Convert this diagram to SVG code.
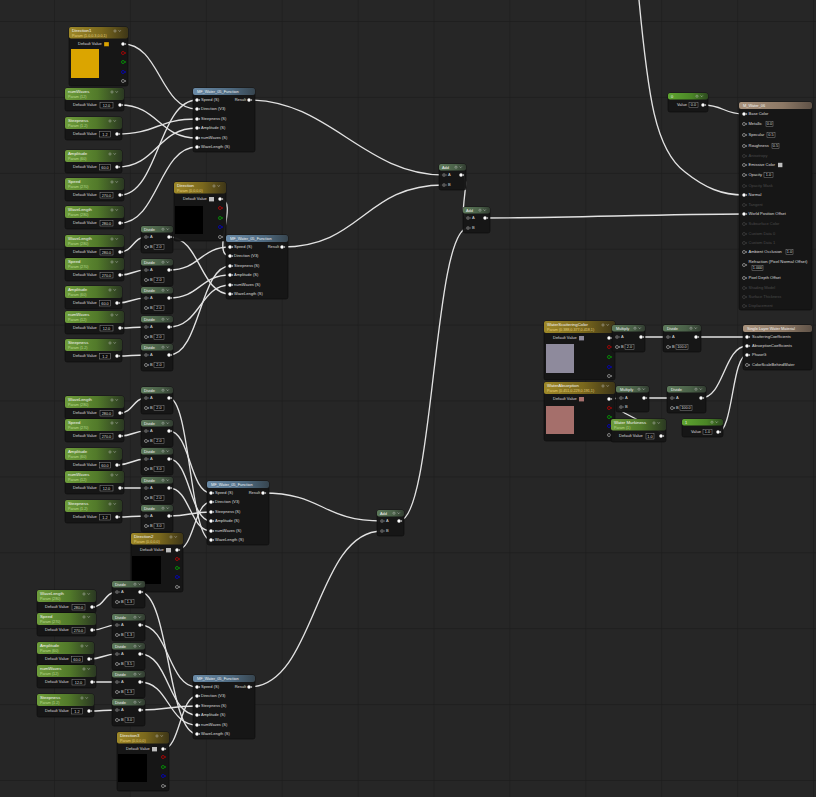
<svg xmlns="http://www.w3.org/2000/svg" width="816" height="797" viewBox="0 0 816 797">
<defs>
<pattern id="grid" x="-21.9" y="-54.9" width="75.9" height="75.9" patternUnits="userSpaceOnUse">
<rect width="75.9" height="75.9" fill="#262626"/>
<path d="M0,0 H75.9 M0,0 V75.9" stroke="#1c1c1c" stroke-width="1.3" fill="none"/>
</pattern>
<linearGradient id="gP" x1="0" y1="0" x2="1" y2="0"><stop offset="0" stop-color="#6e9d3b"/><stop offset="0.55" stop-color="#527a2a"/><stop offset="1" stop-color="#2b3922"/></linearGradient>
<linearGradient id="gY" x1="0" y1="0" x2="1" y2="0"><stop offset="0" stop-color="#9e8828"/><stop offset="0.55" stop-color="#7a681d"/><stop offset="1" stop-color="#3e3617"/></linearGradient>
<linearGradient id="gF" x1="0" y1="0" x2="1" y2="0"><stop offset="0" stop-color="#6a8aa6"/><stop offset="0.6" stop-color="#4f6b82"/><stop offset="1" stop-color="#37454f"/></linearGradient>
<linearGradient id="gM" x1="0" y1="0" x2="1" y2="0"><stop offset="0" stop-color="#5d795a"/><stop offset="0.6" stop-color="#4a6148"/><stop offset="1" stop-color="#323d31"/></linearGradient>
<linearGradient id="gW" x1="0" y1="0" x2="1" y2="0"><stop offset="0" stop-color="#a8927c"/><stop offset="0.6" stop-color="#8c7865"/><stop offset="1" stop-color="#5f5247"/></linearGradient>
<linearGradient id="gC" x1="0" y1="0" x2="1" y2="0"><stop offset="0" stop-color="#5fa631"/><stop offset="0.6" stop-color="#4a8526"/><stop offset="1" stop-color="#2d4a1f"/></linearGradient>
<g id="po"><circle r="1.7" fill="#fff"/><path d="M2.2,-1.1 L3.3,0 L2.2,1.1Z" fill="#fff"/></g>
<g id="pa"><circle r="1.6" fill="#555" stroke="#777" stroke-width="0.4"/><path d="M2.2,-1 L3.2,0 L2.2,1Z" fill="#666"/></g>
<g id="ph"><circle r="1.5" fill="none" stroke="#c4c4c4" stroke-width="0.6"/><path d="M2.2,-1 L3.2,0 L2.2,1Z" fill="#c4c4c4"/></g>
<g id="pd"><circle r="1.5" fill="none" stroke="#484848" stroke-width="0.6"/><path d="M2.2,-1 L3.2,0 L2.2,1Z" fill="#484848"/></g>
<g id="pr"><circle r="1.5" fill="none" stroke="#d00000" stroke-width="0.7"/><path d="M2.2,-1 L3.2,0 L2.2,1Z" fill="#d00000"/></g>
<g id="pg"><circle r="1.5" fill="none" stroke="#00b400" stroke-width="0.7"/><path d="M2.2,-1 L3.2,0 L2.2,1Z" fill="#00b400"/></g>
<g id="pb"><circle r="1.5" fill="none" stroke="#0000e0" stroke-width="0.7"/><path d="M2.2,-1 L3.2,0 L2.2,1Z" fill="#0000e0"/></g>
<g id="ico"><circle r="1.1" fill="none" stroke="#c8c8c8" stroke-width="0.45"/><path d="M3.6,-0.7 L4.7,0.5 L5.8,-0.7" fill="none" stroke="#c8c8c8" stroke-width="0.5"/></g>
</defs>
<style>
.bd{fill:#161616;fill-opacity:0.96;stroke:#0b0b0b;stroke-width:0.6}
text{font-family:"Liberation Sans",Arial,sans-serif}
.tt{font-size:4.3px;fill:#f2f2f2}
.th{font-size:3.9px;fill:#f0f0f0}
.sg{font-size:3.7px;fill:#b9d98c}
.sy{font-size:3.7px;fill:#e2cd78}
.tx{font-size:4px;fill:#dedede}
.td{font-size:4px;fill:#4a4a4a}
.tv{font-size:3.8px;fill:#dedede;text-anchor:middle}
.bx{fill:#0c0c0c;stroke:#9a9a9a;stroke-width:0.45}
.w{fill:none;stroke:#e2e2e2;stroke-width:1.35;stroke-linecap:round}
</style>
<rect width="816" height="797" fill="url(#grid)"/>

<g id="connectors" class="w">
<path d="M123,44 C160,44 160,109 197,109"/>
<path d="M120,105 C158,105 159,138 197,138"/>
<path d="M117,134 C157,134 157,119 197,119"/>
<path d="M117,167 C157,167 157,128 197,128"/>
<path d="M120,195 C158,195 159,100 197,100"/>
<path d="M120,223 C158,223 159,147 197,147"/>
<path d="M249,100 C329,100 364,175 444,175"/>
<path d="M120,252 C133,252 133,237 146,237"/>
<path d="M120,275 C133,275 133,270 146,270"/>
<path d="M117,303 C131,303 132,298 146,298"/>
<path d="M120,328 C133,328 133,327 146,327"/>
<path d="M117,356 C131,356 132,355 146,355"/>
<path d="M169,237 C200,237 200,294 230,294"/>
<path d="M169,270 C200,270 200,247 230,247"/>
<path d="M169,298 C200,298 200,275 230,275"/>
<path d="M169,327 C200,327 200,285 230,285"/>
<path d="M169,355 C200,355 200,266 230,266"/>
<path d="M220,199 C240,199 210,256 230,256"/>
<path d="M282,247 C362,247 364,185 444,185"/>
<path d="M120,413 C133,413 133,398 146,398"/>
<path d="M120,436 C133,436 133,431 146,431"/>
<path d="M117,465 C131,465 132,459 146,459"/>
<path d="M120,488 C133,488 133,488 146,488"/>
<path d="M117,517 C131,517 132,516 146,516"/>
<path d="M169,398 C190,398 190,540 211,540"/>
<path d="M169,431 C190,431 190,493 211,493"/>
<path d="M169,459 C190,459 190,521 211,521"/>
<path d="M169,488 C190,488 190,531 211,531"/>
<path d="M169,516 C190,516 190,512 211,512"/>
<path d="M177,550 C194,550 194,502 211,502"/>
<path d="M263,493 C323,493 322,521 382,521"/>
<path d="M249,687 C316,687 315,531 382,531"/>
<path d="M399,521 C434,521 433,228 468,228"/>
<path d="M461,175 C473,175 456,218 468,218"/>
<path d="M485,218 C565,218 664,214 744,214"/>
<path d="M92,607 C105,607 104,592 117,592"/>
<path d="M92,630 C105,630 104,625 117,625"/>
<path d="M89,659 C103,659 103,654 117,654"/>
<path d="M92,682 C105,682 104,682 117,682"/>
<path d="M89,711 C103,711 103,710 117,710"/>
<path d="M140,592 C169,592 168,734 197,734"/>
<path d="M140,625 C169,625 168,687 197,687"/>
<path d="M140,654 C169,654 168,715 197,715"/>
<path d="M140,682 C169,682 168,725 197,725"/>
<path d="M140,710 C169,710 168,706 197,706"/>
<path d="M163,749 C180,749 180,696 197,696"/>
<path d="M639,0 C648,95 655,150 685,172 C705,188 722,195 744,195"/>
<path d="M703,105 C723,105 724,114 744,114"/>
<path d="M609,338 C613,338 613,337 617,337"/>
<path d="M641,337 C654,337 655,337 668,337"/>
<path d="M696,337 C720,337 723,337 747,337"/>
<path d="M609,399 C615,399 615,398 621,398"/>
<path d="M661,436 C679,436 603,407 621,407"/>
<path d="M644,398 C658,398 658,398 672,398"/>
<path d="M701,398 C724,398 724,346 747,346"/>
<path d="M718,432 C733,432 732,355 747,355"/>
</g>

<!-- Block 1 -->
<g id="direction1" transform="translate(69,27)">
<rect class="bd" width="59" height="59" rx="2"/>
<rect fill="url(#gY)" width="59" height="11.5" rx="2"/>
<text class="tt" x="3" y="5">Direction1</text>
<text class="sy" x="3" y="10">Param (1.0,0.3,0.0,1)</text>
<use href="#ico" x="46" y="4"/>
<text class="tx" x="9" y="18.4">Default Value</text>
<rect x="35" y="15" width="5" height="4.4" fill="#dca400" stroke="#111" stroke-width="0.3"/>
<use href="#po" x="54" y="17"/>
<rect x="2" y="22" width="28" height="29" fill="#dba500"/>
<use href="#pr" x="54" y="26"/>
<use href="#pg" x="54" y="35"/>
<use href="#pb" x="54" y="45"/>
<use href="#ph" x="54" y="54"/>
</g>

<g id="b1-numWaves" transform="translate(65,88)">
<rect class="bd" width="59" height="23" rx="2"/>
<rect fill="url(#gP)" width="59" height="12" rx="2"/>
<text class="tt" x="3" y="5">numWaves</text>
<text class="sg" x="3" y="10">Param (12)</text>
<use href="#ico" x="47" y="4"/>
<text class="tx" x="8" y="18.4">Default Value</text>
<rect class="bx" x="35" y="14.5" width="13" height="5.5"/>
<text class="tv" x="41.5" y="18.5">12.0</text>
<use href="#po" x="55" y="17"/>
</g>
<g id="b1-steepness" transform="translate(65,117)">
<rect class="bd" width="57" height="23" rx="2"/>
<rect fill="url(#gP)" width="57" height="12" rx="2"/>
<text class="tt" x="3" y="5">Steepness</text>
<text class="sg" x="3" y="10">Param (1.2)</text>
<use href="#ico" x="45" y="4"/>
<text class="tx" x="8" y="18.4">Default Value</text>
<rect class="bx" x="34.5" y="14.5" width="11" height="5.5"/>
<text class="tv" x="40" y="18.5">1.2</text>
<use href="#po" x="52" y="17"/>
</g>
<g id="b1-amplitude" transform="translate(65,150)">
<rect class="bd" width="57" height="23" rx="2"/>
<rect fill="url(#gP)" width="57" height="12" rx="2"/>
<text class="tt" x="3" y="5">Amplitude</text>
<text class="sg" x="3" y="10">Param (60)</text>
<use href="#ico" x="45" y="4"/>
<text class="tx" x="8" y="18.4">Default Value</text>
<rect class="bx" x="34.5" y="14.5" width="11" height="5.5"/>
<text class="tv" x="40" y="18.5">60.0</text>
<use href="#po" x="52" y="17"/>
</g>
<g id="b1-speed" transform="translate(65,178)">
<rect class="bd" width="59" height="23" rx="2"/>
<rect fill="url(#gP)" width="59" height="12" rx="2"/>
<text class="tt" x="3" y="5">Speed</text>
<text class="sg" x="3" y="10">Param (270)</text>
<use href="#ico" x="47" y="4"/>
<text class="tx" x="8" y="18.4">Default Value</text>
<rect class="bx" x="35" y="14.5" width="13" height="5.5"/>
<text class="tv" x="41.5" y="18.5">270.0</text>
<use href="#po" x="55" y="17"/>
</g>
<g id="b1-wavelength" transform="translate(65,206)">
<rect class="bd" width="59" height="23" rx="2"/>
<rect fill="url(#gP)" width="59" height="12" rx="2"/>
<text class="tt" x="3" y="5">WaveLength</text>
<text class="sg" x="3" y="10">Param (280)</text>
<use href="#ico" x="47" y="4"/>
<text class="tx" x="8" y="18.4">Default Value</text>
<rect class="bx" x="35" y="14.5" width="13" height="5.5"/>
<text class="tv" x="41.5" y="18.5">280.0</text>
<use href="#po" x="55" y="17"/>
</g>

<g id="b1-function" transform="translate(193,88)">
<rect class="bd" width="62" height="64" rx="2"/>
<rect fill="url(#gF)" width="62" height="7" rx="2"/>
<text class="th" x="4" y="5">MF_Water_05_Function</text>
<use href="#po" x="4" y="12"/><text class="tx" x="8" y="13.4">Speed (S)</text>
<use href="#po" x="4" y="21"/><text class="tx" x="8" y="22.4">Direction (V3)</text>
<use href="#po" x="4" y="31"/><text class="tx" x="8" y="32.4">Steepness (S)</text>
<use href="#po" x="4" y="40"/><text class="tx" x="8" y="41.4">Amplitude (S)</text>
<use href="#po" x="4" y="50"/><text class="tx" x="8" y="51.4">numWaves (S)</text>
<use href="#po" x="4" y="59"/><text class="tx" x="8" y="60.4">WaveLength (S)</text>
<text class="tx" x="53" y="13.4" text-anchor="end">Result</text><use href="#po" x="56" y="12"/>
</g>

<!-- Block 2 -->
<g id="b2-wavelength" transform="translate(65,235)">
<rect class="bd" width="59" height="23" rx="2"/>
<rect fill="url(#gP)" width="59" height="12" rx="2"/>
<text class="tt" x="3" y="5">WaveLength</text>
<text class="sg" x="3" y="10">Param (280)</text>
<use href="#ico" x="47" y="4"/>
<text class="tx" x="8" y="18.4">Default Value</text>
<rect class="bx" x="35" y="14.5" width="13" height="5.5"/>
<text class="tv" x="41.5" y="18.5">280.0</text>
<use href="#po" x="55" y="17"/>
</g>
<g id="b2-speed" transform="translate(65,258)">
<rect class="bd" width="59" height="23" rx="2"/>
<rect fill="url(#gP)" width="59" height="12" rx="2"/>
<text class="tt" x="3" y="5">Speed</text>
<text class="sg" x="3" y="10">Param (270)</text>
<use href="#ico" x="47" y="4"/>
<text class="tx" x="8" y="18.4">Default Value</text>
<rect class="bx" x="35" y="14.5" width="13" height="5.5"/>
<text class="tv" x="41.5" y="18.5">270.0</text>
<use href="#po" x="55" y="17"/>
</g>
<g id="b2-amplitude" transform="translate(65,286)">
<rect class="bd" width="57" height="23" rx="2"/>
<rect fill="url(#gP)" width="57" height="12" rx="2"/>
<text class="tt" x="3" y="5">Amplitude</text>
<text class="sg" x="3" y="10">Param (60)</text>
<use href="#ico" x="45" y="4"/>
<text class="tx" x="8" y="18.4">Default Value</text>
<rect class="bx" x="34.5" y="14.5" width="11" height="5.5"/>
<text class="tv" x="40" y="18.5">60.0</text>
<use href="#po" x="52" y="17"/>
</g>
<g id="b2-numWaves" transform="translate(65,311)">
<rect class="bd" width="59" height="23" rx="2"/>
<rect fill="url(#gP)" width="59" height="12" rx="2"/>
<text class="tt" x="3" y="5">numWaves</text>
<text class="sg" x="3" y="10">Param (12)</text>
<use href="#ico" x="47" y="4"/>
<text class="tx" x="8" y="18.4">Default Value</text>
<rect class="bx" x="35" y="14.5" width="13" height="5.5"/>
<text class="tv" x="41.5" y="18.5">12.0</text>
<use href="#po" x="55" y="17"/>
</g>
<g id="b2-steepness" transform="translate(65,339)">
<rect class="bd" width="57" height="23" rx="2"/>
<rect fill="url(#gP)" width="57" height="12" rx="2"/>
<text class="tt" x="3" y="5">Steepness</text>
<text class="sg" x="3" y="10">Param (1.2)</text>
<use href="#ico" x="45" y="4"/>
<text class="tx" x="8" y="18.4">Default Value</text>
<rect class="bx" x="34.5" y="14.5" width="11" height="5.5"/>
<text class="tv" x="40" y="18.5">1.2</text>
<use href="#po" x="52" y="17"/>
</g>

<g id="b2-divide1" transform="translate(141,226)">
<rect class="bd" width="32" height="27" rx="2"/><rect fill="url(#gM)" width="32" height="6.5" rx="2"/>
<text class="th" x="3" y="4.8">Divide</text><use href="#ico" x="22" y="3.2"/>
<use href="#pa" x="5" y="11"/><text class="tx" x="9" y="12.4">A</text><use href="#po" x="28" y="11"/>
<use href="#ph" x="5" y="21"/><text class="tx" x="9" y="22.4">B</text>
<rect class="bx" x="13" y="18.3" width="10" height="5.4"/><text class="tv" x="18" y="22.3">2.0</text>
</g>
<g id="b2-divide2" transform="translate(141,259)">
<rect class="bd" width="32" height="27" rx="2"/><rect fill="url(#gM)" width="32" height="6.5" rx="2"/>
<text class="th" x="3" y="4.8">Divide</text><use href="#ico" x="22" y="3.2"/>
<use href="#pa" x="5" y="11"/><text class="tx" x="9" y="12.4">A</text><use href="#po" x="28" y="11"/>
<use href="#ph" x="5" y="21"/><text class="tx" x="9" y="22.4">B</text>
<rect class="bx" x="13" y="18.3" width="10" height="5.4"/><text class="tv" x="18" y="22.3">2.0</text>
</g>
<g id="b2-divide3" transform="translate(141,287)">
<rect class="bd" width="32" height="27" rx="2"/><rect fill="url(#gM)" width="32" height="6.5" rx="2"/>
<text class="th" x="3" y="4.8">Divide</text><use href="#ico" x="22" y="3.2"/>
<use href="#pa" x="5" y="11"/><text class="tx" x="9" y="12.4">A</text><use href="#po" x="28" y="11"/>
<use href="#ph" x="5" y="21"/><text class="tx" x="9" y="22.4">B</text>
<rect class="bx" x="13" y="18.3" width="10" height="5.4"/><text class="tv" x="18" y="22.3">2.0</text>
</g>
<g id="b2-divide4" transform="translate(141,316)">
<rect class="bd" width="32" height="27" rx="2"/><rect fill="url(#gM)" width="32" height="6.5" rx="2"/>
<text class="th" x="3" y="4.8">Divide</text><use href="#ico" x="22" y="3.2"/>
<use href="#pa" x="5" y="11"/><text class="tx" x="9" y="12.4">A</text><use href="#po" x="28" y="11"/>
<use href="#ph" x="5" y="21"/><text class="tx" x="9" y="22.4">B</text>
<rect class="bx" x="13" y="18.3" width="10" height="5.4"/><text class="tv" x="18" y="22.3">2.0</text>
</g>
<g id="b2-divide5" transform="translate(141,344)">
<rect class="bd" width="32" height="27" rx="2"/><rect fill="url(#gM)" width="32" height="6.5" rx="2"/>
<text class="th" x="3" y="4.8">Divide</text><use href="#ico" x="22" y="3.2"/>
<use href="#pa" x="5" y="11"/><text class="tx" x="9" y="12.4">A</text><use href="#po" x="28" y="11"/>
<use href="#ph" x="5" y="21"/><text class="tx" x="9" y="22.4">B</text>
<rect class="bx" x="13" y="18.3" width="10" height="5.4"/><text class="tv" x="18" y="22.3">2.0</text>
</g>

<g id="direction" transform="translate(174,182)">
<rect class="bd" width="52" height="59" rx="2"/>
<rect fill="url(#gY)" width="52" height="11.5" rx="2"/>
<text class="tt" x="3" y="5">Direction</text>
<text class="sy" x="3" y="10">Param (0,0,0,0)</text>
<use href="#ico" x="40" y="4"/>
<text class="tx" x="9" y="18.4">Default Value</text>
<rect x="35" y="15" width="5" height="4.4" fill="#bdbdbd"/>
<use href="#po" x="46" y="17"/>
<rect x="1" y="24" width="28" height="28" fill="#000"/>
<use href="#pr" x="46" y="26"/>
<use href="#pg" x="46" y="36"/>
<use href="#pb" x="46" y="45"/>
<use href="#ph" x="46" y="55"/>
</g>

<g id="b2-function" transform="translate(226,235)">
<rect class="bd" width="62" height="64" rx="2"/>
<rect fill="url(#gF)" width="62" height="7" rx="2"/>
<text class="th" x="4" y="5">MF_Water_05_Function</text>
<use href="#po" x="4" y="12"/><text class="tx" x="8" y="13.4">Speed (S)</text>
<use href="#po" x="4" y="21"/><text class="tx" x="8" y="22.4">Direction (V3)</text>
<use href="#po" x="4" y="31"/><text class="tx" x="8" y="32.4">Steepness (S)</text>
<use href="#po" x="4" y="40"/><text class="tx" x="8" y="41.4">Amplitude (S)</text>
<use href="#po" x="4" y="50"/><text class="tx" x="8" y="51.4">numWaves (S)</text>
<use href="#po" x="4" y="59"/><text class="tx" x="8" y="60.4">WaveLength (S)</text>
<text class="tx" x="53" y="13.4" text-anchor="end">Result</text><use href="#po" x="56" y="12"/>
</g>

<!-- Adds -->
<g id="add1" transform="translate(439,164)">
<rect class="bd" width="27" height="26" rx="2"/><rect fill="url(#gM)" width="27" height="6.5" rx="2"/>
<text class="th" x="3" y="4.8">Add</text><use href="#ico" x="17" y="3.2"/>
<use href="#pa" x="5" y="11"/><text class="tx" x="9" y="12.4">A</text><use href="#po" x="22" y="11"/>
<use href="#pa" x="5" y="21"/><text class="tx" x="9" y="22.4">B</text>
</g>
<g id="add2" transform="translate(463,207)">
<rect class="bd" width="27" height="26" rx="2"/><rect fill="url(#gM)" width="27" height="6.5" rx="2"/>
<text class="th" x="3" y="4.8">Add</text><use href="#ico" x="17" y="3.2"/>
<use href="#pa" x="5" y="11"/><text class="tx" x="9" y="12.4">A</text><use href="#po" x="22" y="11"/>
<use href="#pa" x="5" y="21"/><text class="tx" x="9" y="22.4">B</text>
</g>
<g id="add3" transform="translate(377,510)">
<rect class="bd" width="27" height="26" rx="2"/><rect fill="url(#gM)" width="27" height="6.5" rx="2"/>
<text class="th" x="3" y="4.8">Add</text><use href="#ico" x="17" y="3.2"/>
<use href="#pa" x="5" y="11"/><text class="tx" x="9" y="12.4">A</text><use href="#po" x="22" y="11"/>
<use href="#pa" x="5" y="21"/><text class="tx" x="9" y="22.4">B</text>
</g>

<!-- Block 3 -->
<g id="b3-wavelength" transform="translate(65,396)">
<rect class="bd" width="59" height="23" rx="2"/>
<rect fill="url(#gP)" width="59" height="12" rx="2"/>
<text class="tt" x="3" y="5">WaveLength</text>
<text class="sg" x="3" y="10">Param (280)</text>
<use href="#ico" x="47" y="4"/>
<text class="tx" x="8" y="18.4">Default Value</text>
<rect class="bx" x="35" y="14.5" width="13" height="5.5"/>
<text class="tv" x="41.5" y="18.5">280.0</text>
<use href="#po" x="55" y="17"/>
</g>
<g id="b3-speed" transform="translate(65,419)">
<rect class="bd" width="59" height="23" rx="2"/>
<rect fill="url(#gP)" width="59" height="12" rx="2"/>
<text class="tt" x="3" y="5">Speed</text>
<text class="sg" x="3" y="10">Param (270)</text>
<use href="#ico" x="47" y="4"/>
<text class="tx" x="8" y="18.4">Default Value</text>
<rect class="bx" x="35" y="14.5" width="13" height="5.5"/>
<text class="tv" x="41.5" y="18.5">270.0</text>
<use href="#po" x="55" y="17"/>
</g>
<g id="b3-amplitude" transform="translate(65,448)">
<rect class="bd" width="57" height="23" rx="2"/>
<rect fill="url(#gP)" width="57" height="12" rx="2"/>
<text class="tt" x="3" y="5">Amplitude</text>
<text class="sg" x="3" y="10">Param (60)</text>
<use href="#ico" x="45" y="4"/>
<text class="tx" x="8" y="18.4">Default Value</text>
<rect class="bx" x="34.5" y="14.5" width="11" height="5.5"/>
<text class="tv" x="40" y="18.5">60.0</text>
<use href="#po" x="52" y="17"/>
</g>
<g id="b3-numWaves" transform="translate(65,471)">
<rect class="bd" width="59" height="23" rx="2"/>
<rect fill="url(#gP)" width="59" height="12" rx="2"/>
<text class="tt" x="3" y="5">numWaves</text>
<text class="sg" x="3" y="10">Param (12)</text>
<use href="#ico" x="47" y="4"/>
<text class="tx" x="8" y="18.4">Default Value</text>
<rect class="bx" x="35" y="14.5" width="13" height="5.5"/>
<text class="tv" x="41.5" y="18.5">12.0</text>
<use href="#po" x="55" y="17"/>
</g>
<g id="b3-steepness" transform="translate(65,500)">
<rect class="bd" width="57" height="23" rx="2"/>
<rect fill="url(#gP)" width="57" height="12" rx="2"/>
<text class="tt" x="3" y="5">Steepness</text>
<text class="sg" x="3" y="10">Param (1.2)</text>
<use href="#ico" x="45" y="4"/>
<text class="tx" x="8" y="18.4">Default Value</text>
<rect class="bx" x="34.5" y="14.5" width="11" height="5.5"/>
<text class="tv" x="40" y="18.5">1.2</text>
<use href="#po" x="52" y="17"/>
</g>

<g id="b3-divide1" transform="translate(141,387)">
<rect class="bd" width="32" height="27" rx="2"/><rect fill="url(#gM)" width="32" height="6.5" rx="2"/>
<text class="th" x="3" y="4.8">Divide</text><use href="#ico" x="22" y="3.2"/>
<use href="#pa" x="5" y="11"/><text class="tx" x="9" y="12.4">A</text><use href="#po" x="28" y="11"/>
<use href="#ph" x="5" y="21"/><text class="tx" x="9" y="22.4">B</text>
<rect class="bx" x="13" y="18.3" width="10" height="5.4"/><text class="tv" x="18" y="22.3">2.0</text>
</g>
<g id="b3-divide2" transform="translate(141,420)">
<rect class="bd" width="32" height="27" rx="2"/><rect fill="url(#gM)" width="32" height="6.5" rx="2"/>
<text class="th" x="3" y="4.8">Divide</text><use href="#ico" x="22" y="3.2"/>
<use href="#pa" x="5" y="11"/><text class="tx" x="9" y="12.4">A</text><use href="#po" x="28" y="11"/>
<use href="#ph" x="5" y="21"/><text class="tx" x="9" y="22.4">B</text>
<rect class="bx" x="13" y="18.3" width="10" height="5.4"/><text class="tv" x="18" y="22.3">2.0</text>
</g>
<g id="b3-divide3" transform="translate(141,448)">
<rect class="bd" width="32" height="27" rx="2"/><rect fill="url(#gM)" width="32" height="6.5" rx="2"/>
<text class="th" x="3" y="4.8">Divide</text><use href="#ico" x="22" y="3.2"/>
<use href="#pa" x="5" y="11"/><text class="tx" x="9" y="12.4">A</text><use href="#po" x="28" y="11"/>
<use href="#ph" x="5" y="21"/><text class="tx" x="9" y="22.4">B</text>
<rect class="bx" x="13" y="18.3" width="10" height="5.4"/><text class="tv" x="18" y="22.3">3.0</text>
</g>
<g id="b3-divide4" transform="translate(141,477)">
<rect class="bd" width="32" height="27" rx="2"/><rect fill="url(#gM)" width="32" height="6.5" rx="2"/>
<text class="th" x="3" y="4.8">Divide</text><use href="#ico" x="22" y="3.2"/>
<use href="#pa" x="5" y="11"/><text class="tx" x="9" y="12.4">A</text><use href="#po" x="28" y="11"/>
<use href="#ph" x="5" y="21"/><text class="tx" x="9" y="22.4">B</text>
<rect class="bx" x="13" y="18.3" width="10" height="5.4"/><text class="tv" x="18" y="22.3">2.0</text>
</g>
<g id="b3-divide5" transform="translate(141,505)">
<rect class="bd" width="32" height="27" rx="2"/><rect fill="url(#gM)" width="32" height="6.5" rx="2"/>
<text class="th" x="3" y="4.8">Divide</text><use href="#ico" x="22" y="3.2"/>
<use href="#pa" x="5" y="11"/><text class="tx" x="9" y="12.4">A</text><use href="#po" x="28" y="11"/>
<use href="#ph" x="5" y="21"/><text class="tx" x="9" y="22.4">B</text>
<rect class="bx" x="13" y="18.3" width="10" height="5.4"/><text class="tv" x="18" y="22.3">3.0</text>
</g>

<g id="b3-function" transform="translate(207,481)">
<rect class="bd" width="62" height="64" rx="2"/>
<rect fill="url(#gF)" width="62" height="7" rx="2"/>
<text class="th" x="4" y="5">MF_Water_05_Function</text>
<use href="#po" x="4" y="12"/><text class="tx" x="8" y="13.4">Speed (S)</text>
<use href="#po" x="4" y="21"/><text class="tx" x="8" y="22.4">Direction (V3)</text>
<use href="#po" x="4" y="31"/><text class="tx" x="8" y="32.4">Steepness (S)</text>
<use href="#po" x="4" y="40"/><text class="tx" x="8" y="41.4">Amplitude (S)</text>
<use href="#po" x="4" y="50"/><text class="tx" x="8" y="51.4">numWaves (S)</text>
<use href="#po" x="4" y="59"/><text class="tx" x="8" y="60.4">WaveLength (S)</text>
<text class="tx" x="53" y="13.4" text-anchor="end">Result</text><use href="#po" x="56" y="12"/>
</g>

<g id="direction2" transform="translate(131,533)">
<rect class="bd" width="52" height="59" rx="2"/>
<rect fill="url(#gY)" width="52" height="11.5" rx="2"/>
<text class="tt" x="3" y="5">Direction2</text>
<text class="sy" x="3" y="10">Param (0,0,0,0)</text>
<use href="#ico" x="40" y="4"/>
<text class="tx" x="9" y="18.4">Default Value</text>
<rect x="35" y="15" width="5" height="4.4" fill="#bdbdbd"/>
<use href="#po" x="46" y="17"/>
<rect x="1" y="23" width="29" height="28" fill="#000"/>
<use href="#pr" x="46" y="26"/>
<use href="#pg" x="46" y="35"/>
<use href="#pb" x="46" y="44"/>
<use href="#ph" x="46" y="54"/>
</g>

<!-- Block 4 -->
<g id="b4-wavelength" transform="translate(37,590)">
<rect class="bd" width="59" height="23" rx="2"/>
<rect fill="url(#gP)" width="59" height="12" rx="2"/>
<text class="tt" x="3" y="5">WaveLength</text>
<text class="sg" x="3" y="10">Param (280)</text>
<use href="#ico" x="47" y="4"/>
<text class="tx" x="8" y="18.4">Default Value</text>
<rect class="bx" x="35" y="14.5" width="13" height="5.5"/>
<text class="tv" x="41.5" y="18.5">280.0</text>
<use href="#po" x="55" y="17"/>
</g>
<g id="b4-speed" transform="translate(37,613)">
<rect class="bd" width="59" height="23" rx="2"/>
<rect fill="url(#gP)" width="59" height="12" rx="2"/>
<text class="tt" x="3" y="5">Speed</text>
<text class="sg" x="3" y="10">Param (270)</text>
<use href="#ico" x="47" y="4"/>
<text class="tx" x="8" y="18.4">Default Value</text>
<rect class="bx" x="35" y="14.5" width="13" height="5.5"/>
<text class="tv" x="41.5" y="18.5">270.0</text>
<use href="#po" x="55" y="17"/>
</g>
<g id="b4-amplitude" transform="translate(37,642)">
<rect class="bd" width="57" height="23" rx="2"/>
<rect fill="url(#gP)" width="57" height="12" rx="2"/>
<text class="tt" x="3" y="5">Amplitude</text>
<text class="sg" x="3" y="10">Param (60)</text>
<use href="#ico" x="45" y="4"/>
<text class="tx" x="8" y="18.4">Default Value</text>
<rect class="bx" x="34.5" y="14.5" width="11" height="5.5"/>
<text class="tv" x="40" y="18.5">60.0</text>
<use href="#po" x="52" y="17"/>
</g>
<g id="b4-numWaves" transform="translate(37,665)">
<rect class="bd" width="59" height="23" rx="2"/>
<rect fill="url(#gP)" width="59" height="12" rx="2"/>
<text class="tt" x="3" y="5">numWaves</text>
<text class="sg" x="3" y="10">Param (12)</text>
<use href="#ico" x="47" y="4"/>
<text class="tx" x="8" y="18.4">Default Value</text>
<rect class="bx" x="35" y="14.5" width="13" height="5.5"/>
<text class="tv" x="41.5" y="18.5">12.0</text>
<use href="#po" x="55" y="17"/>
</g>
<g id="b4-steepness" transform="translate(37,694)">
<rect class="bd" width="57" height="23" rx="2"/>
<rect fill="url(#gP)" width="57" height="12" rx="2"/>
<text class="tt" x="3" y="5">Steepness</text>
<text class="sg" x="3" y="10">Param (1.2)</text>
<use href="#ico" x="45" y="4"/>
<text class="tx" x="8" y="18.4">Default Value</text>
<rect class="bx" x="34.5" y="14.5" width="11" height="5.5"/>
<text class="tv" x="40" y="18.5">1.2</text>
<use href="#po" x="52" y="17"/>
</g>

<g id="b4-divide1" transform="translate(112,581)">
<rect class="bd" width="33" height="27" rx="2"/><rect fill="url(#gM)" width="33" height="6.5" rx="2"/>
<text class="th" x="3" y="4.8">Divide</text><use href="#ico" x="23" y="3.2"/>
<use href="#pa" x="5" y="11"/><text class="tx" x="9" y="12.4">A</text><use href="#po" x="28" y="11"/>
<use href="#ph" x="5" y="21"/><text class="tx" x="9" y="22.4">B</text>
<rect class="bx" x="13" y="18.3" width="9" height="5.4"/><text class="tv" x="17.5" y="22.3">1.3</text>
</g>
<g id="b4-divide2" transform="translate(112,614)">
<rect class="bd" width="33" height="27" rx="2"/><rect fill="url(#gM)" width="33" height="6.5" rx="2"/>
<text class="th" x="3" y="4.8">Divide</text><use href="#ico" x="23" y="3.2"/>
<use href="#pa" x="5" y="11"/><text class="tx" x="9" y="12.4">A</text><use href="#po" x="28" y="11"/>
<use href="#ph" x="5" y="21"/><text class="tx" x="9" y="22.4">B</text>
<rect class="bx" x="13" y="18.3" width="9" height="5.4"/><text class="tv" x="17.5" y="22.3">1.3</text>
</g>
<g id="b4-divide3" transform="translate(112,643)">
<rect class="bd" width="33" height="27" rx="2"/><rect fill="url(#gM)" width="33" height="6.5" rx="2"/>
<text class="th" x="3" y="4.8">Divide</text><use href="#ico" x="23" y="3.2"/>
<use href="#pa" x="5" y="11"/><text class="tx" x="9" y="12.4">A</text><use href="#po" x="28" y="11"/>
<use href="#ph" x="5" y="21"/><text class="tx" x="9" y="22.4">B</text>
<rect class="bx" x="13" y="18.3" width="9" height="5.4"/><text class="tv" x="17.5" y="22.3">3.5</text>
</g>
<g id="b4-divide4" transform="translate(112,671)">
<rect class="bd" width="33" height="27" rx="2"/><rect fill="url(#gM)" width="33" height="6.5" rx="2"/>
<text class="th" x="3" y="4.8">Divide</text><use href="#ico" x="23" y="3.2"/>
<use href="#pa" x="5" y="11"/><text class="tx" x="9" y="12.4">A</text><use href="#po" x="28" y="11"/>
<use href="#ph" x="5" y="21"/><text class="tx" x="9" y="22.4">B</text>
<rect class="bx" x="13" y="18.3" width="9" height="5.4"/><text class="tv" x="17.5" y="22.3">1.3</text>
</g>
<g id="b4-divide5" transform="translate(112,699)">
<rect class="bd" width="33" height="27" rx="2"/><rect fill="url(#gM)" width="33" height="6.5" rx="2"/>
<text class="th" x="3" y="4.8">Divide</text><use href="#ico" x="23" y="3.2"/>
<use href="#pa" x="5" y="11"/><text class="tx" x="9" y="12.4">A</text><use href="#po" x="28" y="11"/>
<use href="#ph" x="5" y="21"/><text class="tx" x="9" y="22.4">B</text>
<rect class="bx" x="13" y="18.3" width="9" height="5.4"/><text class="tv" x="17.5" y="22.3">3.0</text>
</g>

<g id="b4-function" transform="translate(193,675)">
<rect class="bd" width="62" height="64" rx="2"/>
<rect fill="url(#gF)" width="62" height="7" rx="2"/>
<text class="th" x="4" y="5">MF_Water_05_Function</text>
<use href="#po" x="4" y="12"/><text class="tx" x="8" y="13.4">Speed (S)</text>
<use href="#po" x="4" y="21"/><text class="tx" x="8" y="22.4">Direction (V3)</text>
<use href="#po" x="4" y="31"/><text class="tx" x="8" y="32.4">Steepness (S)</text>
<use href="#po" x="4" y="40"/><text class="tx" x="8" y="41.4">Amplitude (S)</text>
<use href="#po" x="4" y="50"/><text class="tx" x="8" y="51.4">numWaves (S)</text>
<use href="#po" x="4" y="59"/><text class="tx" x="8" y="60.4">WaveLength (S)</text>
<text class="tx" x="53" y="13.4" text-anchor="end">Result</text><use href="#po" x="56" y="12"/>
</g>

<g id="direction3" transform="translate(117,732)">
<rect class="bd" width="52" height="59" rx="2"/>
<rect fill="url(#gY)" width="52" height="11.5" rx="2"/>
<text class="tt" x="3" y="5">Direction3</text>
<text class="sy" x="3" y="10">Param (0,0,0,0)</text>
<use href="#ico" x="40" y="4"/>
<text class="tx" x="9" y="18.4">Default Value</text>
<rect x="35" y="15" width="5" height="4.4" fill="#bdbdbd"/>
<use href="#po" x="46" y="17"/>
<rect x="1" y="22" width="29" height="28" fill="#000"/>
<use href="#pr" x="46" y="25"/>
<use href="#pg" x="46" y="35"/>
<use href="#pb" x="46" y="44"/>
<use href="#ph" x="46" y="54"/>
</g>

<!-- Right: material output -->
<g id="constant0" transform="translate(668,93)">
<rect class="bd" width="40" height="19" rx="2"/>
<rect fill="url(#gC)" width="40" height="6.5" rx="2"/>
<text class="th" x="3" y="4.8">0</text><use href="#ico" x="29" y="3.2"/>
<text class="tx" x="9" y="13.4">Value</text>
<rect class="bx" x="21" y="9.3" width="9" height="5.4"/><text class="tv" x="25.5" y="13.3">0.0</text>
<use href="#po" x="35" y="12"/>
</g>

<g id="m-water-06" transform="translate(739,102)">
<rect class="bd" width="73" height="208" rx="2"/>
<rect fill="url(#gW)" width="73" height="7" rx="2"/>
<text class="th" x="4" y="5">M_Water_06</text>
<use href="#po" x="5" y="12"/><text class="tx" x="9.5" y="13.4">Base Color</text>
<use href="#ph" x="5" y="22"/><text class="tx" x="9.5" y="23.4">Metallic</text>
<rect class="bx" x="27" y="19.3" width="7" height="5.4"/><text class="tv" x="30.5" y="23.3">0.0</text>
<use href="#ph" x="5" y="33"/><text class="tx" x="9.5" y="34.4">Specular</text>
<rect class="bx" x="28" y="30.3" width="8" height="5.4"/><text class="tv" x="32" y="34.3">0.5</text>
<use href="#ph" x="5" y="44"/><text class="tx" x="9.5" y="45.4">Roughness</text>
<rect class="bx" x="33" y="41.3" width="7" height="5.4"/><text class="tv" x="36.5" y="45.3">0.5</text>
<use href="#pd" x="5" y="54"/><text class="td" x="9.5" y="55.4">Anisotropy</text>
<use href="#ph" x="5" y="63"/><text class="tx" x="9.5" y="64.4">Emissive Color</text>
<rect x="39" y="60.8" width="4.4" height="4.4" fill="#bdbdbd"/>
<use href="#ph" x="5" y="73"/><text class="tx" x="9.5" y="74.4">Opacity</text>
<rect class="bx" x="25" y="70.3" width="9" height="5.4"/><text class="tv" x="29.5" y="74.3">1.0</text>
<use href="#pd" x="5" y="84"/><text class="td" x="9.5" y="85.4">Opacity Mask</text>
<use href="#po" x="5" y="93"/><text class="tx" x="9.5" y="94.4">Normal</text>
<use href="#pd" x="5" y="103"/><text class="td" x="9.5" y="104.4">Tangent</text>
<use href="#po" x="5" y="112"/><text class="tx" x="9.5" y="113.4">World Position Offset</text>
<use href="#pd" x="5" y="122"/><text class="td" x="9.5" y="123.4">Subsurface Color</text>
<use href="#pd" x="5" y="132"/><text class="td" x="9.5" y="133.4">Custom Data 0</text>
<use href="#pd" x="5" y="141"/><text class="td" x="9.5" y="142.4">Custom Data 1</text>
<use href="#ph" x="5" y="150"/><text class="tx" x="9.5" y="151.4">Ambient Occlusion</text>
<rect class="bx" x="47" y="147.3" width="7" height="5.4"/><text class="tv" x="50.5" y="151.3">1.0</text>
<use href="#ph" x="5" y="163"/><text class="tx" x="9.5" y="161.4" textLength="59" lengthAdjust="spacingAndGlyphs">Refraction (Pixel Normal Offset)</text>
<rect class="bx" x="13" y="163.3" width="11" height="5.4"/><text class="tv" x="18.5" y="167.3">1.000</text>
<use href="#ph" x="5" y="176"/><text class="tx" x="9.5" y="177.4">Pixel Depth Offset</text>
<use href="#pd" x="5" y="186"/><text class="td" x="9.5" y="187.4">Shading Model</text>
<use href="#pd" x="5" y="195"/><text class="td" x="9.5" y="196.4">Surface Thickness</text>
<use href="#pd" x="5" y="204"/><text class="td" x="9.5" y="205.4">Displacement</text>
</g>

<!-- Right: water section -->
<g id="water-scattering-color" transform="translate(544,321)">
<rect class="bd" width="71" height="59" rx="2"/>
<rect fill="url(#gY)" width="71" height="12" rx="2"/>
<text class="tt" x="3" y="5">WaterScatteringColor</text>
<text class="sy" x="3" y="10">Param (0.388,0.377,0.418,1)</text>
<use href="#ico" x="59" y="4"/>
<text class="tx" x="9" y="18.4">Default Value</text>
<rect x="35" y="15" width="5" height="4.4" fill="#8d899b"/>
<use href="#po" x="65" y="17"/>
<rect x="2" y="23" width="28" height="29" fill="#8e8a9c"/>
<use href="#pr" x="65" y="26"/>
<use href="#pg" x="65" y="36"/>
<use href="#pb" x="65" y="46"/>
<use href="#ph" x="65" y="55"/>
</g>
<g id="water-absorption" transform="translate(544,382)">
<rect class="bd" width="71" height="59" rx="2"/>
<rect fill="url(#gY)" width="71" height="12" rx="2"/>
<text class="tt" x="3" y="5">WaterAbsorption</text>
<text class="sy" x="3" y="10">Param (0.451,0.229,0.191,1)</text>
<use href="#ico" x="59" y="4"/>
<text class="tx" x="9" y="18.4">Default Value</text>
<rect x="35" y="15" width="5" height="4.4" fill="#a6706d"/>
<use href="#po" x="65" y="17"/>
<rect x="2" y="24" width="28" height="28" fill="#a56f6b"/>
<use href="#pr" x="65" y="26"/>
<use href="#pg" x="65" y="35"/>
<use href="#pb" x="65" y="44"/>
<use href="#ph" x="65" y="53"/>
</g>
<g id="multiply1" transform="translate(612,325)">
<rect class="bd" width="33" height="27" rx="2"/><rect fill="url(#gM)" width="33" height="6.5" rx="2"/>
<text class="th" x="4" y="4.8">Multiply</text><use href="#ico" x="23" y="3.2"/>
<use href="#pa" x="5" y="12"/><text class="tx" x="9" y="13.4">A</text><use href="#po" x="29" y="12"/>
<use href="#ph" x="5" y="22"/><text class="tx" x="9" y="23.4">B</text>
<rect class="bx" x="13" y="19.3" width="9" height="5.4"/><text class="tv" x="17.5" y="23.3">2.0</text>
</g>
<g id="divide-s" transform="translate(663,325)">
<rect class="bd" width="38" height="27" rx="2"/><rect fill="url(#gM)" width="38" height="6.5" rx="2"/>
<text class="th" x="4" y="4.8">Divide</text><use href="#ico" x="28" y="3.2"/>
<use href="#pa" x="5" y="12"/><text class="tx" x="9" y="13.4">A</text><use href="#po" x="33" y="12"/>
<use href="#ph" x="5" y="22"/><text class="tx" x="9" y="23.4">B</text>
<rect class="bx" x="13" y="19.3" width="12" height="5.4"/><text class="tv" x="19" y="23.3">100.0</text>
</g>
<g id="multiply2" transform="translate(616,386)">
<rect class="bd" width="33" height="26" rx="2"/><rect fill="url(#gM)" width="33" height="6.5" rx="2"/>
<text class="th" x="4" y="4.8">Multiply</text><use href="#ico" x="23" y="3.2"/>
<use href="#pa" x="5" y="12"/><text class="tx" x="9" y="13.4">A</text><use href="#po" x="28" y="12"/>
<use href="#pa" x="5" y="21"/><text class="tx" x="9" y="22.4">B</text>
</g>
<g id="divide-a" transform="translate(667,386)">
<rect class="bd" width="39" height="27" rx="2"/><rect fill="url(#gM)" width="39" height="6.5" rx="2"/>
<text class="th" x="4" y="4.8">Divide</text><use href="#ico" x="29" y="3.2"/>
<use href="#pa" x="5" y="12"/><text class="tx" x="9" y="13.4">A</text><use href="#po" x="34" y="12"/>
<use href="#ph" x="5" y="22"/><text class="tx" x="9" y="23.4">B</text>
<rect class="bx" x="13" y="19.3" width="12" height="5.4"/><text class="tv" x="19" y="23.3">100.0</text>
</g>
<g id="water-murkiness" transform="translate(611,419)">
<rect class="bd" width="55" height="23" rx="2"/>
<rect fill="url(#gP)" width="55" height="11.5" rx="2"/>
<text class="tt" x="3" y="5">Water Murkiness</text>
<text class="sg" x="3" y="10">Param (1)</text>
<use href="#ico" x="43" y="4"/>
<text class="tx" x="8" y="18.4">Default Value</text>
<rect class="bx" x="35" y="14.5" width="8" height="5.5"/>
<text class="tv" x="39" y="18.5">1.0</text>
<use href="#po" x="50" y="17"/>
</g>
<g id="constant1" transform="translate(682,419)">
<rect class="bd" width="41" height="18" rx="2"/>
<rect fill="url(#gC)" width="41" height="6.5" rx="2"/>
<text class="th" x="3" y="4.8">1</text><use href="#ico" x="30" y="3.2"/>
<text class="tx" x="9" y="14.4">Value</text>
<rect class="bx" x="21" y="10.3" width="9" height="5.4"/><text class="tv" x="25.5" y="14.3">1.0</text>
<use href="#po" x="36" y="13"/>
</g>
<g id="single-layer-water" transform="translate(743,325)">
<rect class="bd" width="69" height="45" rx="2"/>
<rect fill="url(#gW)" width="69" height="7" rx="2"/>
<text class="th" x="4" y="5">Single Layer Water Material</text>
<use href="#po" x="4" y="12"/><text class="tx" x="9" y="13.4">ScatteringCoefficients</text>
<use href="#po" x="4" y="21"/><text class="tx" x="9" y="22.4">AbsorptionCoefficients</text>
<use href="#po" x="4" y="30"/><text class="tx" x="9" y="31.4">PhaseG</text>
<use href="#ph" x="4" y="40"/><text class="tx" x="9" y="41.4">ColorScaleBehindWater</text>
</g>
</svg>
